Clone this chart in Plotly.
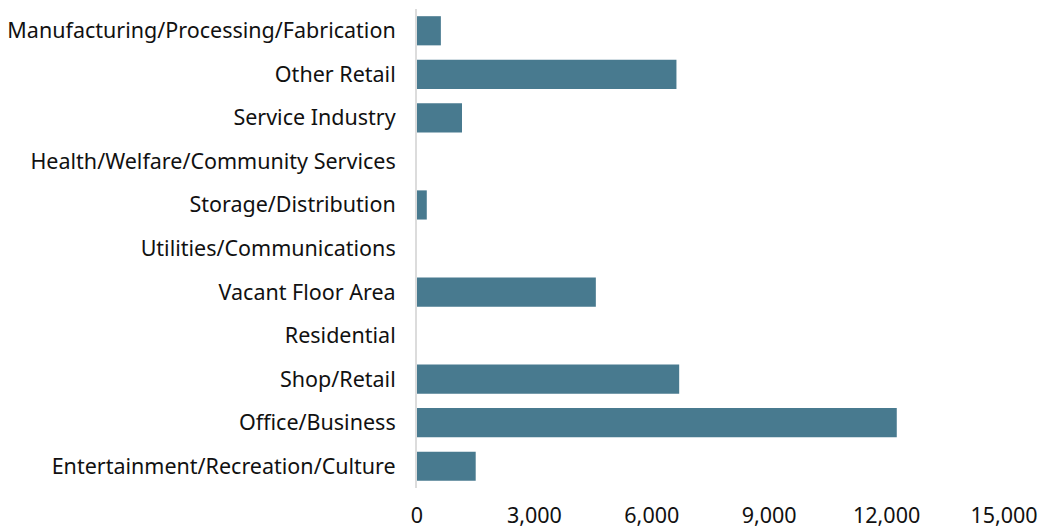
import plotly.graph_objects as go

# Floor area by land-use category (listed bottom to top)
categories = [
    "Entertainment/Recreation/Culture",
    "Office/Business",
    "Shop/Retail",
    "Residential",
    "Vacant Floor Area",
    "Utilities/Communications",
    "Storage/Distribution",
    "Health/Welfare/Community Services",
    "Service Industry",
    "Other Retail",
    "Manufacturing/Processing/Fabrication",
]
floor_area = [1500, 12260, 6700, 0, 4570, 0, 250, 0, 1150, 6630, 610]

x_ticks = [0, 3000, 6000, 9000, 12000, 15000]
x_tick_text = ["0", "3,000", "6,000", "9,000", "12,000", "15,000"]

fig = go.Figure(
    go.Bar(
        x=floor_area,
        y=categories,
        orientation="h",
        marker=dict(color="#487a8f", line=dict(width=0)),
    )
)

font_family = "Noto Sans, Open Sans, sans-serif"
label_size = 21.5

fig.update_layout(
    width=1045,
    height=531,
    margin=dict(l=417, r=41, t=9, b=43),
    paper_bgcolor="white",
    plot_bgcolor="white",
    bargap=0.33,
    showlegend=False,
    font=dict(family=font_family, size=label_size, color="#111111"),
)

fig.update_xaxes(
    range=[0, 15000],
    tickvals=x_ticks,
    ticktext=x_tick_text,
    showgrid=False,
    zeroline=False,
    showline=False,
    ticks="",
    ticklabelstandoff=12,
    automargin=False,
    tickfont=dict(size=label_size),
)

fig.update_yaxes(
    categoryorder="array",
    categoryarray=categories,
    showgrid=False,
    zeroline=False,
    showline=True,
    linecolor="#dcdcdc",
    linewidth=2,
    ticks="",
    ticklabelstandoff=15,
    automargin=False,
    tickfont=dict(size=label_size),
)

fig.write_html("out.html")
